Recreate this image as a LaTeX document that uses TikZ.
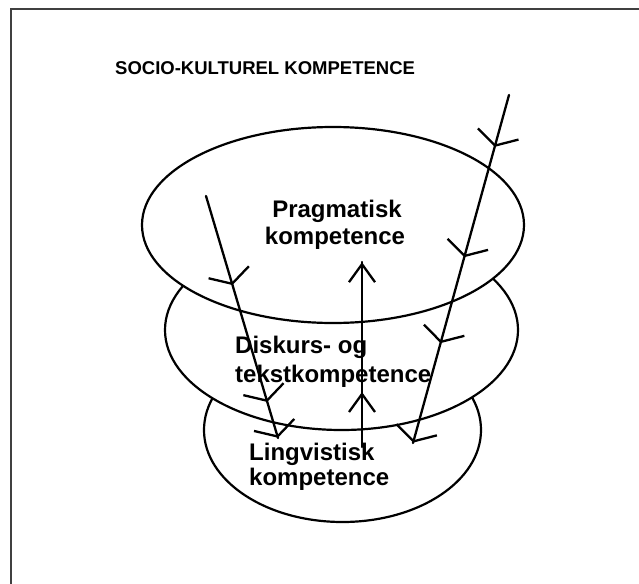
\documentclass[tikz,border=0pt]{standalone}
\usepackage{fontspec}
\setmainfont{Liberation Sans}
\usetikzlibrary{shapes.geometric,decorations.markings,arrows.meta}
\tikzset{
  dn/.tip={Straight Barb[length=12pt,width=42pt]},
  up/.tip={Straight Barb[length=18pt,width=26pt]},
}
\newcommand{\mytip}[1]{\pgfsetlinewidth{2.3pt}\arrow{#1}}
\begin{document}
\begin{tikzpicture}[x=1pt,y=-1pt,
  ring/.style={draw, ellipse, line width=2.2pt, fill=white, inner sep=0pt},
  lbl/.style={font=\fontsize{24}{27}\selectfont\bfseries, inner sep=0pt},
  ttl/.style={font=\fontsize{18.5}{22}\selectfont\bfseries, inner sep=0pt},
  flow/.style={line width=2.3pt, line cap=round},
  frame/.style={line width=2.6pt, draw=black!75},
]
\useasboundingbox (0,0) rectangle (639,583);
\draw[frame] (11,590) -- (11,9) -- (650,9);

% ellipses (bottom first)
\node[ring, minimum width=277pt, minimum height=184pt] (ling) at (342.5,430) {};
\node[ring, minimum width=353pt, minimum height=200pt] (disk) at (341.5,330) {};
\node[ring, minimum width=382pt, minimum height=196pt] (prag) at (333,225) {};

% title
\node[ttl, anchor=base west] (title) at (115,75) {SOCIO-KULTUREL KOMPETENCE};

% labels
\node[lbl, anchor=base] (p1) at (337,217) {Pragmatisk};
\node[lbl, anchor=base] (p2) at (335,244) {kompetence};
\node[lbl, anchor=base west] (d1) at (235,353) {Diskurs- og};
\node[lbl, anchor=base west] (d2) at (235,382) {tekstkompetence};
\node[lbl, anchor=base west] (l1) at (249,460) {Lingvistisk};
\node[lbl, anchor=base west] (l2) at (249,485) {kompetence};

% connectors
\coordinate (L1) at (206,196);
\coordinate (L2) at (278,438);
\coordinate (R1) at (509,95);
\coordinate (R2) at (413,443);
\coordinate (M1) at (362,447);
\coordinate (M2) at (362,262);

\draw[flow, postaction={decorate}, decoration={markings,
  mark=at position 0.368 with {\mytip{dn}},
  mark=at position 0.851 with {\mytip{dn}},
  mark=at position 0.999 with {\mytip{dn}}}] (L1) -- (L2);
\draw[flow, postaction={decorate}, decoration={markings,
  mark=at position 0.149 with {\mytip{dn}},
  mark=at position 0.466 with {\mytip{dn}},
  mark=at position 0.713 with {\mytip{dn}},
  mark=at position 0.999 with {\mytip{dn}}}] (R1) -- (R2);
\draw[flow, postaction={decorate}, decoration={markings,
  mark=at position 0.297 with {\mytip{up}},
  mark=at position 0.999 with {\mytip{up}}}] (M1) -- (M2);
\end{tikzpicture}
\end{document}
